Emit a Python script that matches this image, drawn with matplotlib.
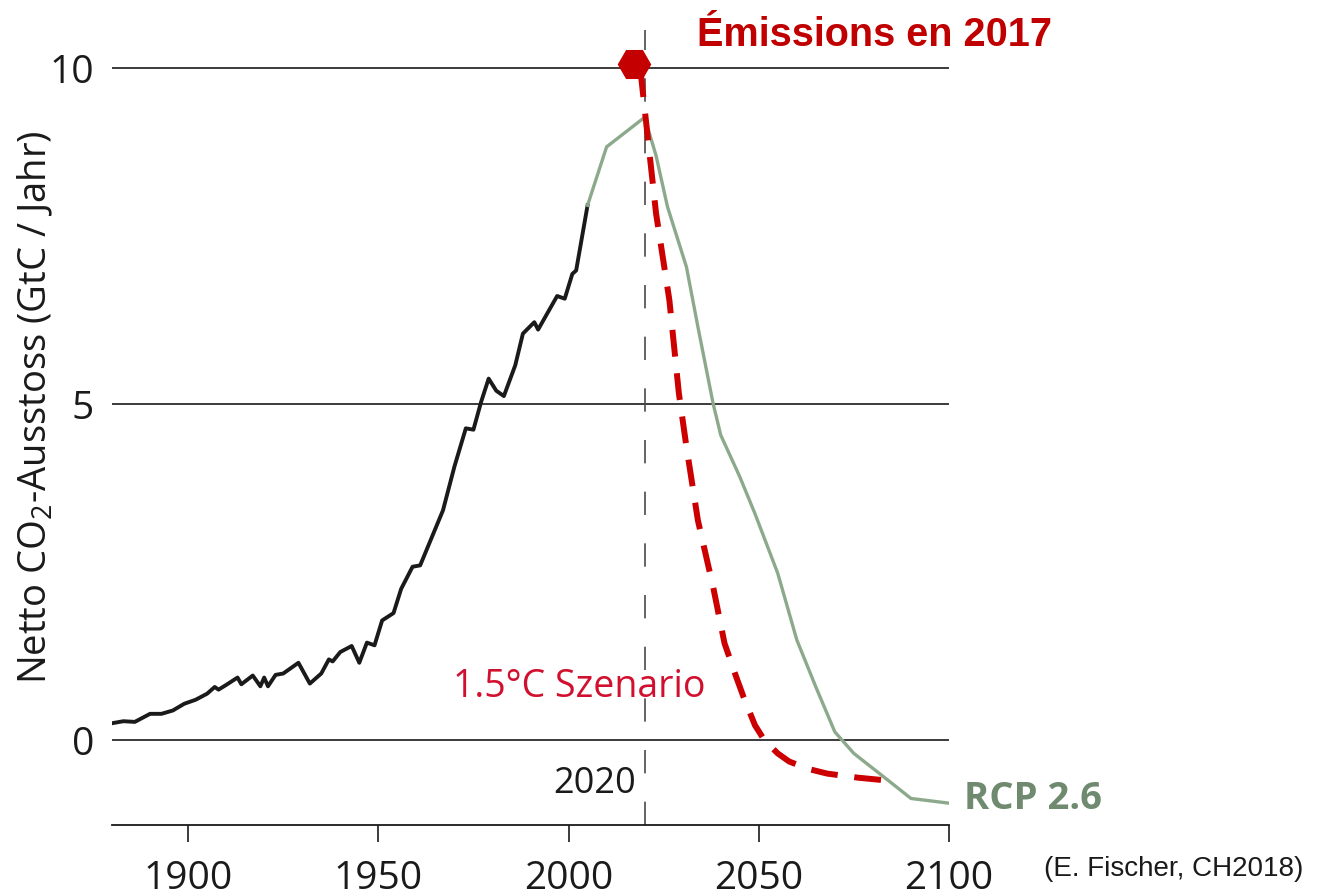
import matplotlib
matplotlib.use("Agg")
import matplotlib.pyplot as plt

plt.rcParams['font.family'] = ['Open Sans', 'DejaVu Sans']
plt.rcParams['mathtext.fontset'] = 'custom'
plt.rcParams['mathtext.rm'] = 'Open Sans'
plt.rcParams['mathtext.it'] = 'Open Sans'

# ---------------- data ----------------
hist_years = [1880, 1883, 1886, 1888, 1890, 1893, 1896, 1899, 1902, 1905, 1907, 1908,
              1910, 1913, 1914, 1917, 1919, 1920, 1921, 1923, 1925, 1927, 1929, 1932,
              1935, 1937, 1938, 1940, 1943, 1945, 1947, 1949, 1951, 1954, 1956, 1959,
              1961, 1967, 1970, 1973, 1975, 1977, 1979, 1981, 1983, 1986, 1988, 1991,
              1992, 1997, 1999, 2001, 2002, 2005]
hist_vals = [0.25, 0.28, 0.27, 0.33, 0.39, 0.39, 0.44, 0.54, 0.60, 0.69, 0.79, 0.75,
             0.82, 0.93, 0.83, 0.96, 0.80, 0.93, 0.80, 0.97, 0.99, 1.07, 1.15, 0.84,
             0.99, 1.20, 1.17, 1.31, 1.40, 1.15, 1.45, 1.41, 1.78, 1.89, 2.25, 2.58,
             2.60, 3.42, 4.07, 4.64, 4.62, 5.03, 5.38, 5.20, 5.12, 5.58, 6.05, 6.22,
             6.11, 6.61, 6.57, 6.94, 6.99, 7.96]

rcp_years = [2005, 2010, 2020, 2023, 2026, 2031, 2034, 2038, 2040, 2045, 2049, 2055,
             2060, 2065, 2070, 2075, 2084, 2090, 2100]
rcp_vals = [7.96, 8.83, 9.27, 8.70, 7.94, 7.04, 6.15, 5.01, 4.54, 3.92, 3.37, 2.48,
            1.49, 0.79, 0.12, -0.20, -0.60, -0.87, -0.94]

sc15_years = [2018.9, 2023, 2026.5, 2029, 2031, 2034, 2038, 2041, 2044, 2046, 2049,
              2051, 2053, 2055, 2058, 2063, 2068, 2076, 2085]
sc15_vals = [9.97, 7.84, 6.55, 5.16, 4.36, 3.27, 2.28, 1.44, 0.95, 0.64, 0.22,
             0.04, -0.09, -0.20, -0.32, -0.43, -0.50, -0.56, -0.61]

emis2017_year = [2017.3]
emis2017_val = [10.07]

xticks = [1900, 1950, 2000, 2050, 2100]
yticks = [0, 5, 10]
marker_year = 2020

# ---------------- figure ----------------
W, H = 1319, 896
fig = plt.figure(figsize=(W / 100, H / 100), dpi=100)
ax = fig.add_axes([112 / W, 1 - 825 / H, (949 - 112) / W, (825 - 30) / H])
ax.set_xlim(1880, 2100)
ax.set_ylim(-1.265, 10.57)

for yv in yticks:
    ax.axhline(yv, color='#1a1a1a', lw=1.2, zorder=1)

ax.axvline(marker_year, color='#4a4a4a', lw=1.2, linestyle=(0, (14, 17)), zorder=1)

ax.plot(hist_years, hist_vals, color='#1a1a1a', lw=2.8, zorder=3)
ax.plot(rcp_years, rcp_vals, color='#8ca98c', lw=2.4, zorder=3)
line, = ax.plot(sc15_years, sc15_vals, color='#cc0000', lw=4.3, zorder=4)
line.set_dashes([4.5, 2.8])
ax.plot(emis2017_year, emis2017_val, marker='H', markersize=23, color='#c40000',
        linestyle='none', zorder=5, clip_on=False)

for s in ['left', 'top', 'right']:
    ax.spines[s].set_visible(False)
ax.spines['bottom'].set_linewidth(1.3)
ax.spines['bottom'].set_color('#1a1a1a')

ax.set_xticks(xticks)
ax.set_xticklabels([str(v) for v in xticks])
ax.set_yticks(yticks)
ax.set_yticklabels([str(v) for v in yticks])
ax.tick_params(axis='x', direction='out', length=12, width=1.2, color='#1a1a1a',
               labelsize=28, pad=13, labelcolor='#1a1a1a')
ax.tick_params(axis='y', length=0, labelsize=28, pad=13, labelcolor='#1a1a1a')

ax.set_ylabel(r'Netto CO$_2$-Ausstoss (GtC / Jahr)', fontsize=27.5, color='#1a1a1a')
ax.yaxis.set_label_coords(-0.068, 0.526)

ax.text(2017.8, -0.79, '2020', ha='right', va='baseline', fontsize=26, color='#1a1a1a')
ax.text(1969.5, 0.64, '1.5°C Szenario', ha='left', va='baseline', fontsize=27,
        color='#d0102e')
ax.text(2104, -0.88, 'RCP 2.6', ha='left', va='center', fontsize=27.5,
        fontweight='bold', color='#6f8a6f', clip_on=False)
ax.text(2033.8, 10.33, 'Émissions en 2017', ha='left', va='baseline', fontsize=28.5,
        fontweight='bold', color='#c00000', family=['Liberation Sans', 'DejaVu Sans'],
        clip_on=False)
ax.text(2124.9, -2.02, '(E. Fischer, CH2018)', ha='left', va='baseline', fontsize=20,
        color='#1a1a1a', family=['Liberation Sans', 'DejaVu Sans'], clip_on=False)

fig.savefig('out.png', dpi=100, facecolor='white')
